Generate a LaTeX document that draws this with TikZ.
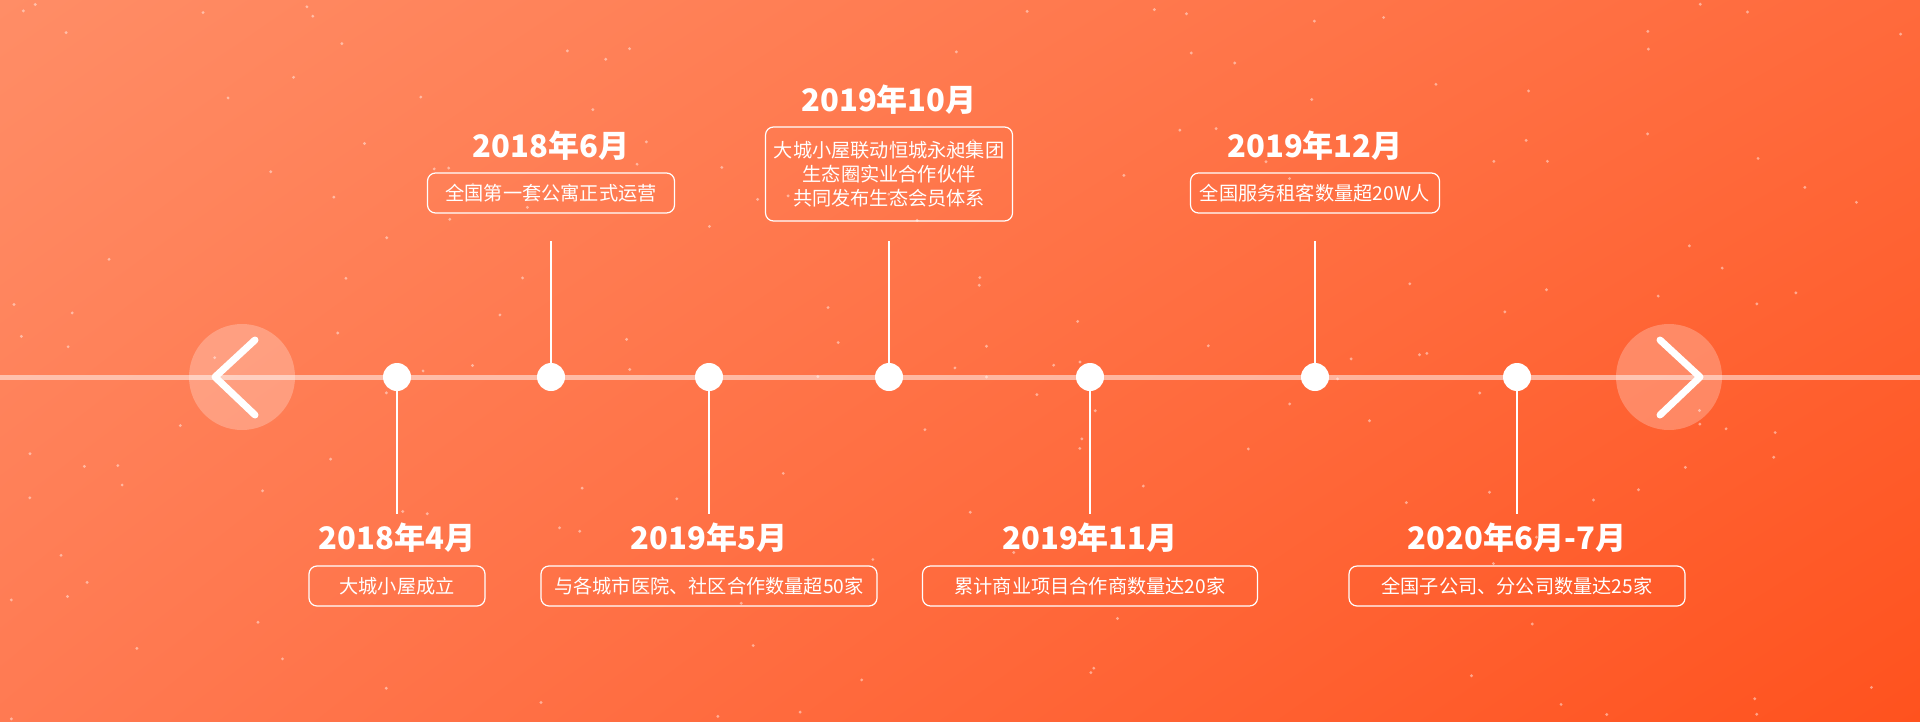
\documentclass[tikz,border=0pt]{standalone}
\usepackage{fontspec}
\newfontfamily\cjk{Noto Sans CJK SC}
\usetikzlibrary{positioning,shadings}
\definecolor{bgUL}{HTML}{FF8D66}
\definecolor{bgUR}{HTML}{FF6A3C}
\definecolor{bgLL}{HTML}{FF7A52}
\definecolor{bgLR}{HTML}{FF521E}
\tikzset{
  year/.style={font=\cjk\bfseries\fontsize{15.5}{17}\selectfont, text=white, inner sep=0pt},
  event/.style={draw=white, line width=0.6pt, rounded corners=4pt, align=center,
    font=\cjk\fontsize{9.6}{12}\selectfont, text=white, inner sep=0pt, minimum height=20pt},
  dot/.style={circle, fill=white, minimum size=14pt, inner sep=0pt},
  stem/.style={white, line width=1pt},
  navbtn/.style={circle, fill=white, fill opacity=0.25, minimum size=53pt, inner sep=0pt},
  chevron/.style={white, line width=3.5pt, line cap=round, line join=round},
}
\begin{document}
\begin{tikzpicture}[x=0.5pt,y=-0.5pt]
\useasboundingbox (0,0) rectangle (1920,722);
\shade[upper left=bgUL, upper right=bgUR, lower left=bgLL, lower right=bgLR] (0,0) rectangle (1920,722);
% specks
\pgfmathsetseed{11}
\foreach \i in {1,...,170}
  \fill[white, opacity=0.45] ({rnd*1920},{rnd*722}) circle (1.6);
% time axis
\draw[white, opacity=0.5, line width=2.5pt] (0,377) -- (1920,377);
% arrows left / right
\node[navbtn] (prev) at (242,377) {};
\node[navbtn] (next) at (1669,377) {};
\draw[chevron] (255,340) -- (215,377) -- (255,415);
\draw[chevron] (1660,340) -- (1700,377) -- (1660,415);
% stem ends
\coordinate (s1) at (397,514);
\coordinate (s2) at (551,241);
\coordinate (s3) at (709,514);
\coordinate (s4) at (889,241);
\coordinate (s5) at (1090,514);
\coordinate (s6) at (1315,241);
\coordinate (s7) at (1517,514);
% points on the axis
\node[dot] (d1) at (397,377) {};
\node[dot] (d2) at (551,377) {};
\node[dot] (d3) at (709,377) {};
\node[dot] (d4) at (889,377) {};
\node[dot] (d5) at (1090,377) {};
\node[dot] (d6) at (1315,377) {};
\node[dot] (d7) at (1517,377) {};
\draw[stem] (d1) -- (s1);
\draw[stem] (d2) -- (s2);
\draw[stem] (d3) -- (s3);
\draw[stem] (d4) -- (s4);
\draw[stem] (d5) -- (s5);
\draw[stem] (d6) -- (s6);
\draw[stem] (d7) -- (s7);
% upper events
\node[year] (y2) at (551,146) {2018年6月};
\node[event, minimum width=123.5pt] (e2) at (551,193) {全国第一套公寓正式运营};
\node[year] (y4) at (889,100) {2019年10月};
\node[event, minimum width=123.5pt, minimum height=47pt] (e4) at (889,174) {大城小屋联动恒城永昶集团\\生态圈实业合作伙伴\\共同发布生态会员体系};
\node[year] (y6) at (1315,146) {2019年12月};
\node[event, minimum width=124.5pt] (e6) at (1315,193) {全国服务租客数量超20W人};
% lower events
\node[year] (y1) at (397,538) {2018年4月};
\node[event, minimum width=88pt] (e1) at (397,586) {大城小屋成立};
\node[year] (y3) at (709,538) {2019年5月};
\node[event, minimum width=168pt] (e3) at (709,586) {与各城市医院、社区合作数量超50家};
\node[year] (y5) at (1090,538) {2019年11月};
\node[event, minimum width=167.5pt] (e5) at (1090,586) {累计商业项目合作商数量达20家};
\node[year] (y7) at (1517,538) {2020年6月-7月};
\node[event, minimum width=168pt] (e7) at (1517,586) {全国子公司、分公司数量达25家};
\end{tikzpicture}
\end{document}
